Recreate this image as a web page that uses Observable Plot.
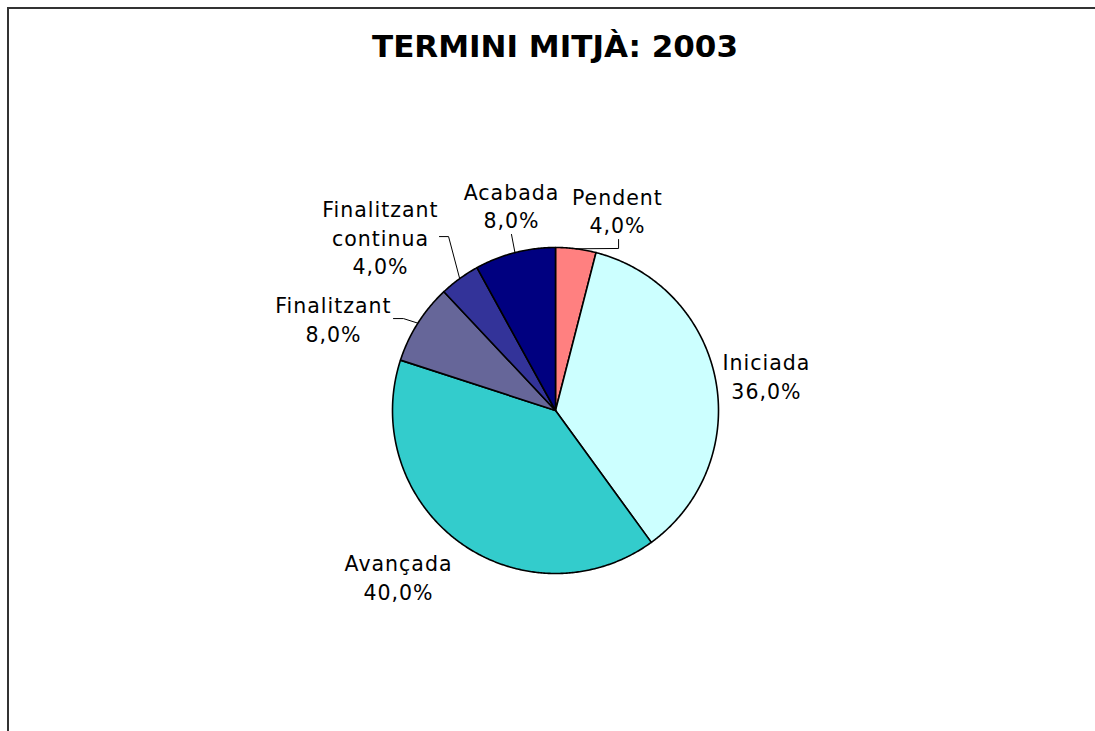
<!DOCTYPE html>
<html>
<head>
<meta charset="utf-8">
<script src="https://cdn.jsdelivr.net/npm/d3@7"></script>
<script src="https://cdn.jsdelivr.net/npm/@observablehq/plot@0.6"></script>
<style>
  html, body { margin: 0; padding: 0; background: #fff; }
  #wrap { position: relative; width: 1095px; height: 731px; overflow: hidden; background: #fff; }
  #frame { position: absolute; left: 7px; top: 7px; width: 1200px; height: 800px;
           border-top: 2px solid #333; border-left: 2px solid #333; box-sizing: border-box; }
  #title { position: absolute; left: 0; top: 28px; width: 1110px; text-align: center;
           font-family: "DejaVu Sans", sans-serif; font-weight: bold; font-size: 31px; color: #000; }
  #chart { position: absolute; left: 0; top: 0; }
  #chart svg text { letter-spacing: 1px; }
</style>
</head>
<body>
<div id="wrap">
  <div id="frame"></div>
  <div id="chart"></div>
  <div id="title">TERMINI MITJÀ: 2003</div>
</div>
<script>
// ---- Data ----
const categories = ["Pendent", "Iniciada", "Avançada", "Finalitzant", "Finalitzant continua", "Acabada"];
const values = [4, 36, 40, 8, 4, 8];
const labelNames = ["Pendent", "Iniciada", "Avançada", "Finalitzant", "Finalitzant\ncontinua", "Acabada"];
const colors = ["#FF8080", "#CCFFFF", "#33CCCC", "#666699", "#333399", "#000080"];

// ---- Layout (label placement in pie-radius units, relative to pie centre) ----
const labelPlacement = [
  [0.380, 1.230], [1.294, 0.215], [-0.963, -1.018],
  [-1.362, 0.564], [-1.074, 1.067], [-0.270, 1.261]
];
// leader line extra points (elbow / end) for labels placed away from their slice
const leaderPoints = [
  [[0.387, 0.994], [0.387, 1.049]],
  null,
  null,
  [[-0.933, 0.564], [-0.994, 0.564]],
  [[-0.656, 1.067], [-0.712, 1.067]],
  [[-0.270, 1.080]]
];

const cx = 555, cy = 410, r = 163;
const total = d3.sum(values);
const fmt = v => (v / total * 100).toFixed(1).replace(".", ",") + "%";

// slice outlines from cumulative values (clockwise from 12 o'clock)
const slicePts = [];
const midAngles = [];
let acc = 0;
values.forEach((v, i) => {
  const a0 = acc / total * 2 * Math.PI;
  acc += v;
  const a1 = acc / total * 2 * Math.PI;
  midAngles.push((a0 + a1) / 2);
  slicePts.push({name: categories[i], x: 0, y: 0});
  const n = Math.max(2, Math.ceil((a1 - a0) / (Math.PI / 360)));
  for (let k = 0; k <= n; k++) {
    const a = a0 + (a1 - a0) * k / n;
    slicePts.push({name: categories[i], x: Math.sin(a), y: Math.cos(a)});
  }
});

const labels = categories.map((c, i) => ({
  name: c,
  text: labelNames[i] + "\n" + fmt(values[i]),
  x: labelPlacement[i][0],
  y: labelPlacement[i][1]
}));

const leaders = [];
categories.forEach((c, i) => {
  if (!leaderPoints[i]) return;
  const a = midAngles[i];
  leaders.push({name: c, x: Math.sin(a), y: Math.cos(a)});
  leaderPoints[i].forEach(p => leaders.push({name: c, x: p[0], y: p[1]}));
});

const chart = Plot.plot({
  width: 1095,
  height: 731,
  margin: 0,
  style: {fontFamily: "'DejaVu Sans', sans-serif", background: "transparent", overflow: "visible"},
  x: {domain: [-1, 1], range: [cx - r, cx + r], axis: null},
  y: {domain: [-1, 1], range: [cy + r, cy - r], axis: null},
  color: {domain: categories, range: colors},
  marks: [
    Plot.line(slicePts, {x: "x", y: "y", z: "name", fill: "name", stroke: "#000",
      strokeWidth: 1.6, strokeLinejoin: "round", curve: "linear-closed"}),
    Plot.line(leaders, {x: "x", y: "y", z: "name", stroke: "#000", strokeWidth: 1}),
    Plot.text(labels, {x: "x", y: "y", text: "text", fontSize: 20.5, lineHeight: 1.39,
      fill: "#000", textAnchor: "middle", lineAnchor: "middle"})
  ]
});
document.getElementById("chart").appendChild(chart);
</script>
</body>
</html>
